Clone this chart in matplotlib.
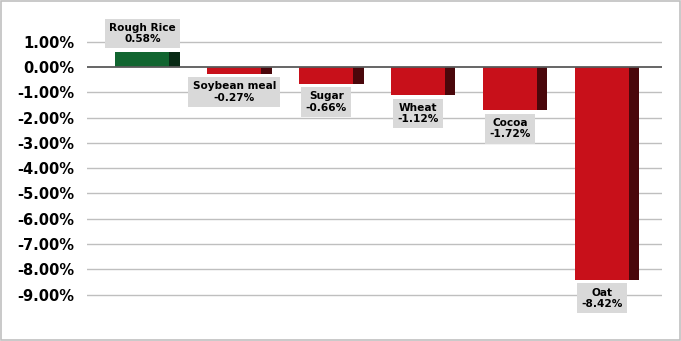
import numpy as np
import matplotlib
matplotlib.use('Agg')
import matplotlib.pyplot as plt

names = ["Rough Rice", "Soybean meal", "Sugar", "Wheat", "Cocoa", "Oat"]
values = [0.58, -0.27, -0.66, -1.12, -1.72, -8.42]
yticks = [1, 0, -1, -2, -3, -4, -5, -6, -7, -8, -9]

fig = plt.figure(figsize=(6.81, 3.41), dpi=100)
ax = fig.add_axes([0.128, 0.0616, 0.844, 0.8904])

x = np.arange(len(names))
shift = 0.05
front_w = 0.59
side_w = 0.11
front_col = ['#116530' if v > 0 else '#c8101a' for v in values]
side_col = ['#082a15' if v > 0 else '#4a070b' for v in values]

# gridlines
for t in yticks:
    ax.axhline(t, color='#595959' if t == 0 else '#bfbfbf', lw=1.3 if t == 0 else 1.0, zorder=1 if t else 4)

ax.bar(x + shift, values, width=front_w, color=front_col, zorder=3)
ax.bar(x + shift + front_w / 2 + side_w / 2, values, width=side_w, color=side_col, zorder=3)

for i, (n, v) in enumerate(zip(names, values)):
    off = 6 if v > 0 else -5.5
    ax.annotate("%s\n%.2f%%" % (n, v), xy=(x[i] + shift, v), xytext=(0, off),
                textcoords='offset points', ha='center',
                va='bottom' if v > 0 else 'top', fontsize=7.6, fontweight='bold',
                linespacing=1.15,
                bbox=dict(boxstyle='square,pad=0.4', fc='#d9d9d9', ec='none'), zorder=5)

ax.set_xlim(-0.55, 5.70)
ax.set_ylim(-10, 2)
ax.set_yticks(yticks)
ax.set_yticklabels(["%.2f%%" % t for t in yticks], fontsize=10.5, fontweight='bold')
ax.set_xticks([])
ax.tick_params(axis='y', length=0, pad=9.5)
for s in ax.spines.values():
    s.set_visible(False)

fig.patches.append(plt.Rectangle((0.001, 0.002), 0.997, 0.995, transform=fig.transFigure,
                                 fill=False, ec='#c0c0c0', lw=1.2))
fig.savefig('out.png', dpi=100)
